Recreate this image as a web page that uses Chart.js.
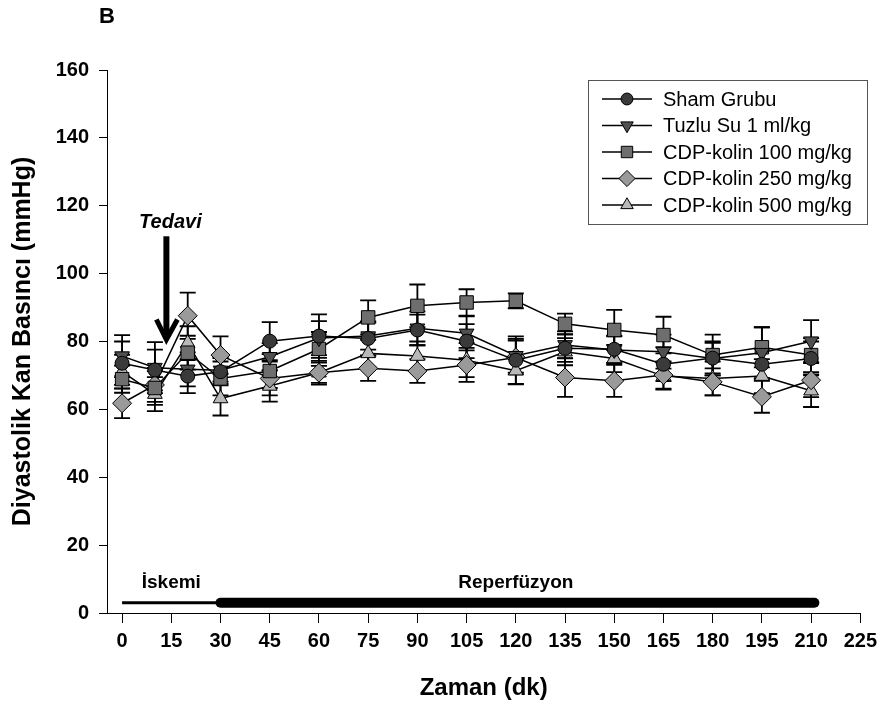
<!DOCTYPE html>
<html>
<head>
<meta charset="utf-8">
<script src="https://cdn.jsdelivr.net/npm/chart.js@4.4.0/dist/chart.umd.min.js"></script>
<style>
  html, body { margin: 0; padding: 0; background: #fff; }
  #wrap { width: 883px; height: 711px; }
</style>
</head>
<body>
<div id="wrap"><canvas id="bpChart" width="883" height="711"></canvas></div>
<script>
// time points (dk) and axis ticks
const times = [0, 10, 20, 30, 45, 60, 75, 90, 105, 120, 135, 150, 165, 180, 195, 210];
const xTicks = [0, 15, 30, 45, 60, 75, 90, 105, 120, 135, 150, 165, 180, 195, 210, 225];
const yTicks = [0, 20, 40, 60, 80, 100, 120, 140, 160];

// diastolic pressure, mean and error
const sham      = [73.6, 71.6, 69.8, 71.1, 80.1, 81.6, 80.9, 83.4, 80.1, 74.5, 78.0, 77.7, 73.3, 75.1, 73.3, 75.0];
const shamErr   = [6.4, 6.0, 5.0, 4.0, 5.6, 6.4, 5.0, 4.5, 5.0, 7.0, 4.0, 4.0, 5.0, 4.5, 4.5, 5.0];
const tuzlu     = [75.7, 72.3, 71.8, 71.5, 75.5, 81.0, 81.6, 83.9, 82.4, 75.8, 79.0, 77.5, 77.0, 75.0, 76.7, 80.1];
const tuzluErr  = [6.2, 7.5, 5.0, 4.0, 4.0, 5.0, 4.0, 5.0, 5.0, 5.0, 4.0, 4.0, 5.0, 5.0, 7.5, 6.2];
const cdp100    = [68.9, 66.3, 76.7, 69.1, 71.3, 77.8, 87.1, 90.5, 91.5, 92.0, 85.2, 83.4, 81.9, 76.0, 78.3, 76.0];
const cdp100Err = [4.0, 5.0, 5.0, 5.0, 5.0, 5.0, 5.0, 6.3, 3.9, 2.2, 3.0, 5.9, 5.4, 6.0, 5.9, 5.0];
const cdp250    = [61.8, 67.2, 87.6, 76.0, 69.1, 70.8, 72.1, 71.3, 73.1, 75.3, 69.4, 68.4, 70.1, 68.1, 63.7, 68.6];
const cdp250Err = [4.4, 5.0, 6.8, 5.5, 5.0, 3.0, 3.7, 3.5, 5.0, 5.0, 5.7, 4.7, 4.0, 4.0, 4.7, 5.0];
const cdp500    = [71.1, 64.5, 79.5, 63.2, 66.9, 70.8, 76.5, 75.7, 74.5, 71.4, 77.0, 75.0, 69.8, 69.1, 69.8, 65.5];
const cdp500Err = [5.0, 5.0, 5.0, 5.0, 4.6, 3.5, 4.0, 4.3, 5.0, 4.0, 4.0, 4.0, 4.0, 5.0, 5.0, 4.8];

const seriesNames = ['Sham Grubu', 'Tuzlu Su 1 ml/kg', 'CDP-kolin 100 mg/kg', 'CDP-kolin 250 mg/kg', 'CDP-kolin 500 mg/kg'];

// study phases and treatment mark
const phases = [
  { label: 'İskemi', from: 0, to: 30, level: 3, labelAt: 15 },
  { label: 'Reperfüzyon', from: 30, to: 211, level: 3, labelAt: 120 }
];
const phaseLabelLevel = 9;
const treatment = { label: 'Tedavi', time: 13.5, from: 111, to: 80, labelLevel: 115 };

const FONT = "'Liberation Sans', Arial, sans-serif";
Chart.defaults.font.family = FONT;

function makeSet(label, values, errs, style, color, radius, rotation) {
  return {
    label: label,
    data: values.map((v, i) => ({ x: times[i], y: v })),
    errors: errs,
    borderColor: '#000',
    borderWidth: 1.5,
    pointStyle: style,
    pointRadius: radius,
    pointRotation: rotation || 0,
    pointBackgroundColor: color,
    pointBorderColor: '#000',
    pointBorderWidth: 1,
    fill: false,
    tension: 0
  };
}

const datasets = [
  makeSet(seriesNames[0], sham, shamErr, 'circle', '#3a3a3a', 7),
  makeSet(seriesNames[1], tuzlu, tuzluErr, 'triangle', '#505050', 8.5, 180),
  makeSet(seriesNames[2], cdp100, cdp100Err, 'rect', '#6e6e6e', 9.5),
  makeSet(seriesNames[3], cdp250, cdp250Err, 'rectRot', '#9a9a9a', 9.5),
  makeSet(seriesNames[4], cdp500, cdp500Err, 'triangle', '#b8b8b8', 8.5)
];

// error bars behind the lines
const errorBars = {
  id: 'errorBars',
  beforeDatasetsDraw(chart) {
    const { ctx, scales: { x, y } } = chart;
    ctx.save();
    ctx.strokeStyle = '#000';
    ctx.lineWidth = 1.8;
    chart.data.datasets.forEach(ds => {
      ds.data.forEach((p, i) => {
        const e = ds.errors[i];
        const px = x.getPixelForValue(p.x);
        const top = y.getPixelForValue(p.y + e);
        const bot = y.getPixelForValue(p.y - e);
        ctx.beginPath();
        ctx.moveTo(px, top); ctx.lineTo(px, bot);
        ctx.moveTo(px - 8, top); ctx.lineTo(px + 8, top);
        ctx.moveTo(px - 8, bot); ctx.lineTo(px + 8, bot);
        ctx.stroke();
      });
    });
    ctx.restore();
  }
};

// phases, arrow, panel letter
const annotations = {
  id: 'annotations',
  afterDraw(chart) {
    const { ctx, scales: { x, y } } = chart;
    ctx.save();
    ctx.strokeStyle = '#000';
    ctx.fillStyle = '#000';
    ctx.lineCap = 'butt';
    // ischemia thin line
    ctx.lineWidth = 3;
    ctx.beginPath();
    ctx.moveTo(x.getPixelForValue(phases[0].from), y.getPixelForValue(phases[0].level));
    ctx.lineTo(x.getPixelForValue(phases[0].to), y.getPixelForValue(phases[0].level));
    ctx.stroke();
    // reperfusion thick line
    ctx.lineWidth = 10;
    ctx.lineCap = 'round';
    ctx.beginPath();
    ctx.moveTo(x.getPixelForValue(phases[1].from), y.getPixelForValue(phases[1].level));
    ctx.lineTo(x.getPixelForValue(phases[1].to), y.getPixelForValue(phases[1].level));
    ctx.stroke();

    ctx.font = 'bold 19px ' + FONT;
    ctx.textAlign = 'center';
    ctx.textBaseline = 'middle';
    phases.forEach(ph => {
      ctx.fillText(ph.label, x.getPixelForValue(ph.labelAt), y.getPixelForValue(phaseLabelLevel));
    });

    // treatment arrow
    const ax = x.getPixelForValue(treatment.time);
    const ay0 = y.getPixelForValue(treatment.from);
    const ay1 = y.getPixelForValue(treatment.to);
    ctx.lineCap = 'butt';
    ctx.lineWidth = 6;
    ctx.beginPath();
    ctx.moveTo(ax, ay0); ctx.lineTo(ax, ay1 - 4);
    ctx.stroke();
    ctx.lineWidth = 5;
    ctx.lineJoin = 'miter';
    ctx.beginPath();
    ctx.moveTo(ax - 10, ay1 - 22);
    ctx.lineTo(ax, ay1 - 2);
    ctx.lineTo(ax + 11, ay1 - 22);
    ctx.stroke();
    ctx.font = 'italic bold 20px ' + FONT;
    ctx.fillText(treatment.label, ax + 4, y.getPixelForValue(treatment.labelLevel));

    // panel letter
    ctx.font = 'bold 22px ' + FONT;
    ctx.textAlign = 'left';
    ctx.fillText('B', 99, 17);
    ctx.restore();
  }
};

// legend box in the upper right
const boxLegend = {
  id: 'boxLegend',
  afterDraw(chart) {
    const { ctx } = chart;
    const left = 588, top = 80, w = 279, h = 144;
    ctx.save();
    ctx.strokeStyle = '#555';
    ctx.lineWidth = 1;
    ctx.strokeRect(left + 0.5, top + 0.5, w, h);
    ctx.font = '20px ' + FONT;
    ctx.textBaseline = 'middle';
    ctx.textAlign = 'left';
    chart.data.datasets.forEach((ds, i) => {
      const cy = top + 19 + i * 26.5;
      ctx.strokeStyle = '#000';
      ctx.lineWidth = 1.5;
      ctx.beginPath();
      ctx.moveTo(left + 14, cy); ctx.lineTo(left + 64, cy);
      ctx.stroke();
      ctx.fillStyle = ds.pointBackgroundColor;
      ctx.strokeStyle = '#000';
      ctx.lineWidth = 1;
      Chart.helpers.drawPoint(ctx, {
        pointStyle: ds.pointStyle,
        radius: ds.pointRadius * 0.85,
        rotation: ds.pointRotation,
        borderWidth: 1
      }, left + 39, cy);
      ctx.fillStyle = '#000';
      ctx.fillText(ds.label, left + 75, cy + 1);
    });
    ctx.restore();
  }
};

new Chart(document.getElementById('bpChart'), {
  type: 'line',
  data: { datasets: datasets },
  options: {
    responsive: false,
    animation: false,
    layout: { padding: { left: 8, right: 22, top: 70, bottom: 8 } },
    plugins: {
      legend: { display: false },
      tooltip: { enabled: false }
    },
    scales: {
      x: {
        type: 'linear',
        min: -4.6,
        max: 225,
        afterBuildTicks: s => { s.ticks = xTicks.map(v => ({ value: v })); },
        afterFit: s => { s.height = 90; },
        grid: { drawOnChartArea: false, drawTicks: true, tickLength: 10, tickColor: '#000', tickWidth: 1 },
        border: { display: true, color: '#000', width: 1 },
        ticks: { color: '#000', font: { size: 20, weight: 'bold' }, padding: 6, maxRotation: 0, autoSkip: false },
        title: { display: true, text: 'Zaman (dk)', color: '#000', font: { size: 24, weight: 'bold' }, padding: { top: 0, bottom: 0 } }
      },
      y: {
        min: 0,
        max: 160,
        afterBuildTicks: s => { s.ticks = yTicks.map(v => ({ value: v })); },
        afterFit: s => { s.width = 99; },
        grid: { drawOnChartArea: false, drawTicks: true, tickLength: 8, tickColor: '#000', tickWidth: 1 },
        border: { display: true, color: '#000', width: 1 },
        ticks: { color: '#000', font: { size: 20, weight: 'bold' }, padding: 10 },
        title: { display: true, text: 'Diyastolik Kan Basıncı (mmHg)', color: '#000', font: { size: 25, weight: 'bold' }, padding: { top: 0, bottom: 0 } }
      }
    }
  },
  plugins: [errorBars, annotations, boxLegend]
});
</script>
</body>
</html>
